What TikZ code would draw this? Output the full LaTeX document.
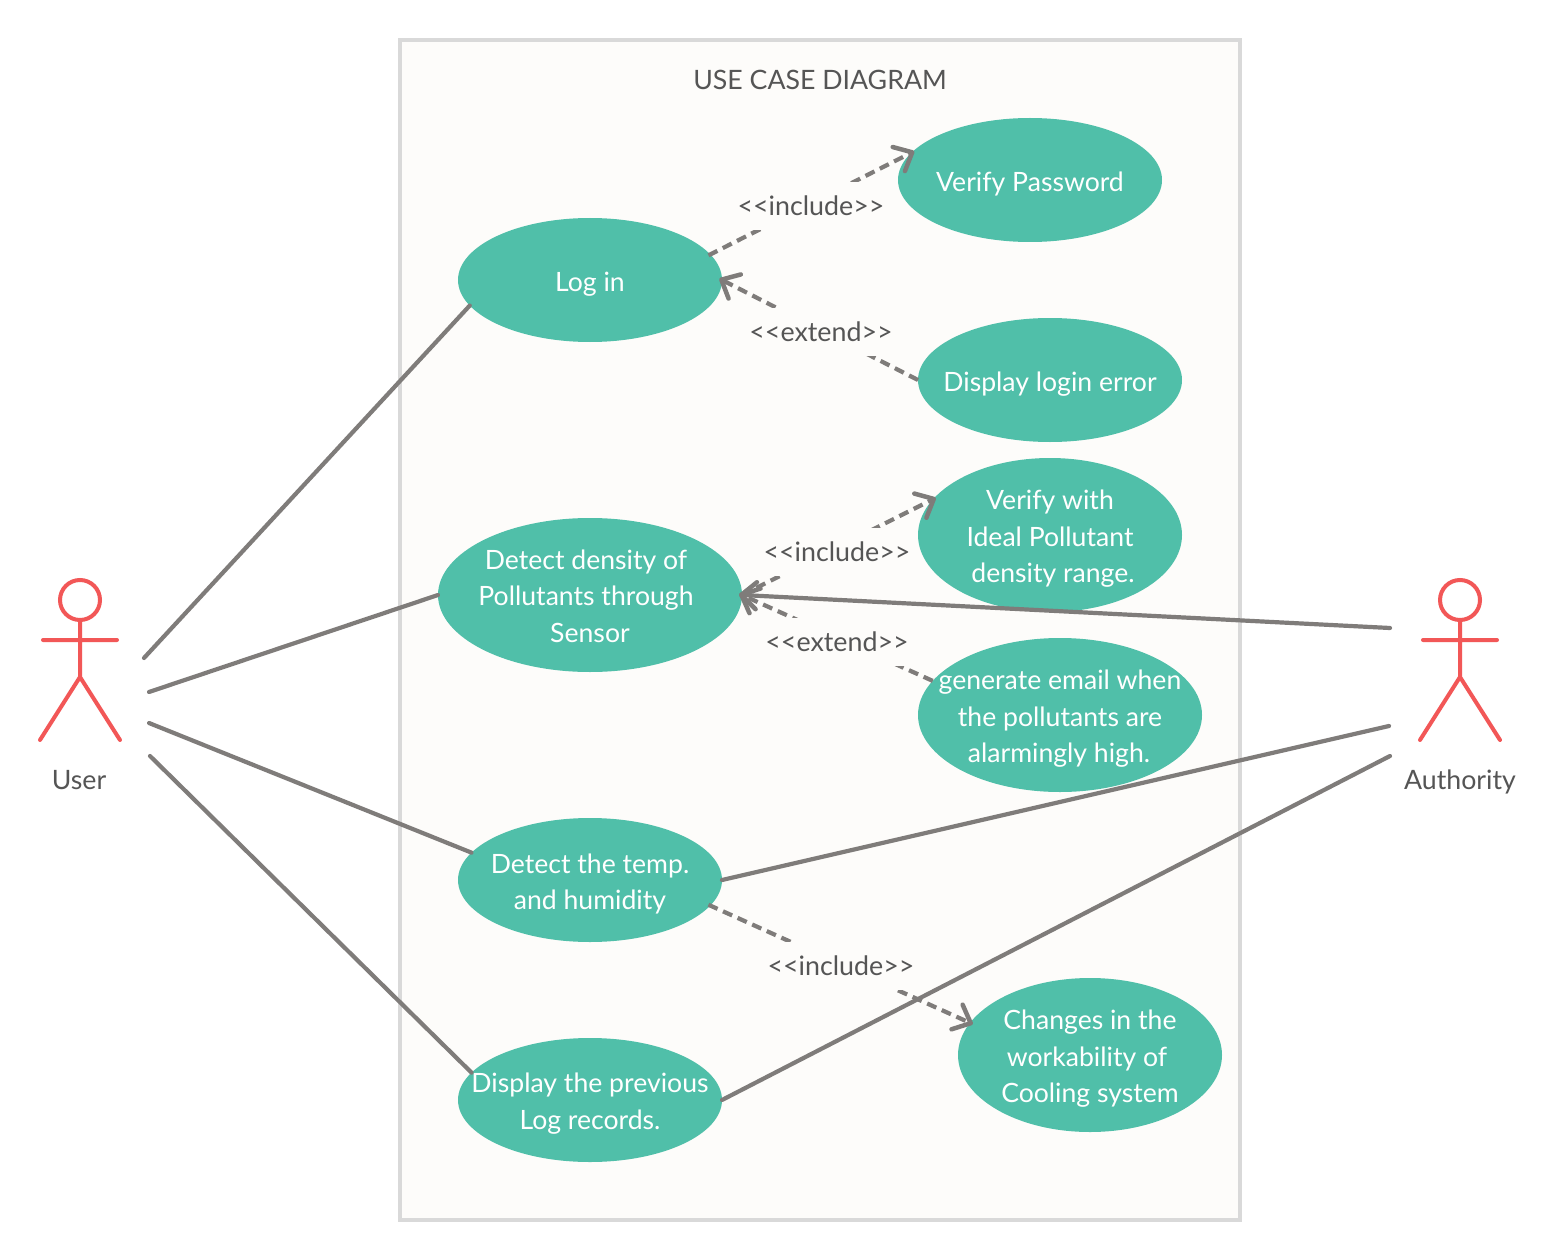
\documentclass[tikz,border=0pt]{standalone}
\usepackage{fontspec}
\setmainfont{Lato}
\usetikzlibrary{arrows.meta,shapes.geometric}
\definecolor{teal}{HTML}{50BFA9}
\definecolor{conn}{HTML}{7F7C7A}
\definecolor{actor}{HTML}{F25757}
\definecolor{paper}{HTML}{FDFCFA}
\definecolor{frame}{HTML}{D9D9D9}
\definecolor{ink}{HTML}{555555}
\tikzset{
  usecase/.style={ellipse,fill=teal,inner sep=0pt,outer sep=0pt},
  casetext/.style={text=white,inner sep=0pt,outer sep=0pt,align=center,yshift=-3.8pt,
    font=\fontsize{26.6}{36.5}\selectfont},
  wide/.style={minimum width=264pt,minimum height=124pt},
  tall/.style={minimum width=264pt,minimum height=154pt},
  assoc/.style={draw=conn,line width=4.2pt,line cap=round},
  dep/.style={draw=conn,line width=4.2pt,dash pattern=on 10pt off 6pt},
  openarrow/.style={shorten >=-3pt,-{Straight Barb[round,length=15pt,width=27pt,line width=4.5pt]}},
  stereo/.style={fill=paper,text=ink,inner sep=0pt,minimum height=48pt,minimum width=150pt,
    font=\fontsize{26.8}{30}\selectfont},
  actorhead/.style={circle,draw=actor,line width=4pt,minimum size=40pt,inner sep=0pt},
  actorline/.style={draw=actor,line width=4pt,line cap=round},
  actorname/.style={text=ink,inner sep=0pt,font=\fontsize{26.7}{30}\selectfont},
}
\begin{document}
\begin{tikzpicture}[x=1pt,y=-1pt]
\useasboundingbox (0,0) rectangle (1556,1260);
\fill[white] (0,0) rectangle (1556,1260);
\draw[fill=paper,draw=frame,line width=4pt] (400,40) rectangle (1240,1220);
\node[text=ink,inner sep=0pt,font=\fontsize{26.7}{30}\selectfont] (title) at (820,79.5) {USE CASE DIAGRAM};

\node[usecase,wide,label={[casetext]center:Log in}] (login) at (590,280) {};
\node[usecase,wide,label={[casetext]center:Verify Password}] (verifypw) at (1030,180) {};
\node[usecase,wide,label={[casetext]center:Display login error}] (loginerr) at (1050,380) {};
\node[usecase,minimum width=304pt,minimum height=154pt,label={[casetext,yshift=2.8pt]center:Detect density of\kern8pt\\Pollutants through\kern8pt\\Sensor}] (density) at (590,595) {};
\node[usecase,tall,label={[casetext]center:Verify with\\Ideal Pollutant\\\hspace*{6pt}density range.}] (verifyideal) at (1050,535) {};
\node[usecase,minimum width=284pt,minimum height=154pt,label={[casetext]center:generate email when\\the pollutants are\\alarmingly high.\kern2pt}] (email) at (1060,715) {};
\node[usecase,wide,label={[casetext]center:Detect the temp.\\and humidity}] (temp) at (590,880) {};
\node[usecase,wide,label={[casetext]center:Display the previous\\Log records.}] (records) at (590,1100) {};
\node[usecase,tall,label={[casetext]center:Changes in the\\workability of\kern6pt\\Cooling system}] (cooling) at (1090,1055) {};

% actors
\node[actorhead] (userhead) at (80,600) {};
\coordinate (userhip) at (80,677);
\coordinate (userla) at (43,640);
\coordinate (userra) at (117,640);
\coordinate (userlf) at (40,740);
\coordinate (userrf) at (120,740);
\draw[actorline] (userhead.south) -- (userhip) (userla) -- (userra) (userlf) -- (userhip) -- (userrf);
\node[actorname] (username) at (79,780.5) {User};

\node[actorhead] (authhead) at (1460,600) {};
\coordinate (authhip) at (1460,677);
\coordinate (authla) at (1423,640);
\coordinate (authra) at (1497,640);
\coordinate (authlf) at (1420,740);
\coordinate (authrf) at (1500,740);
\draw[actorline] (authhead.south) -- (authhip) (authla) -- (authra) (authlf) -- (authhip) -- (authrf);
\node[actorname] (authname) at (1460,781.5) {Authority};

% free ends
\coordinate (u1) at (144,658);
\coordinate (u2) at (149,692);
\coordinate (u3) at (149,723);
\coordinate (u4) at (150,756);
\coordinate (a1) at (1390,628);
\coordinate (a2) at (1389,726);
\coordinate (a3) at (1390,756);

% dependencies
\draw[dep,openarrow,shorten <=-2pt] (login.12.6) -- (verifypw.167);
\node[stereo] (inc1) at (811,206) {<{}<include>{}>};
\draw[dep,openarrow] (loginerr.west) -- (login.0.9);
\node[stereo] (ext1) at (821,332) {<{}<extend>{}>};
\draw[dep,openarrow] (density.east) -- (verifyideal.163.2);
\node[stereo] (inc2) at (837,552) {<{}<include>{}>};
\draw[dep,openarrow] (email.165.1) -- (density.east);
\node[stereo] (ext2) at (837,642) {<{}<extend>{}>};
\draw[dep,openarrow,shorten <=-2pt] (temp.-12.5) -- (cooling.165.6);
\node[stereo] (inc3) at (841,966) {<{}<include>{}>};

% associations
\draw[assoc] (u1) -- (login.192);
\draw[assoc] (u2) -- (density.west);
\draw[assoc] (u3) -- (temp.167.4);
\draw[assoc] (u4) -- (records.167.1);
\draw[assoc,openarrow] (a1) -- (density.east);
\draw[assoc] (a2) -- (temp.east);
\draw[assoc] (a3) -- (records.east);
\end{tikzpicture}
\end{document}
